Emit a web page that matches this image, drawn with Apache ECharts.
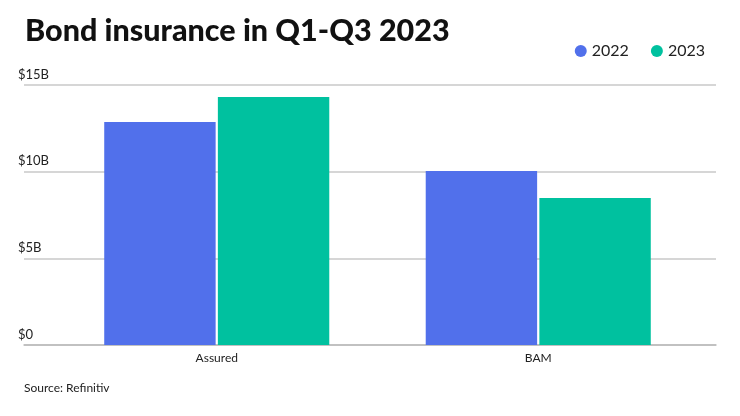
<!DOCTYPE html>
<html><head><meta charset="utf-8">
<script src="https://cdn.jsdelivr.net/npm/echarts@6/dist/echarts.min.js"></script>
<style>html,body{margin:0;padding:0;background:#fff}#c{width:740px;height:416px}</style>
</head><body><div id="c"></div>
<script>
var categories = ["Assured", "BAM"];
var seriesNames = ["2022", "2023"];
var values2022 = [12.87, 10.04];
var values2023 = [14.31, 8.48];
var yTicks = [0, 5, 10, 15];
var yTickLabels = ["$0", "$5B", "$10B", "$15B"];

var chart = echarts.init(document.getElementById('c'));
var font = 'Lato';
chart.setOption({
  animation: false,
  textStyle: {fontFamily: font},
  title: {
    text: 'Bond insurance in Q1-Q3 2023',
    left: 20, top: 11,
    textStyle: {fontFamily: font, fontWeight: 900, fontSize: 30.5, color: '#111'}
  },
  graphic: [{
    type: 'text', left: 24, top: 382,
    style: {text: 'Source: Refinitiv', font: '12px Lato', fill: '#222'}
  }],
  legend: {
    right: 30, top: 38,
    itemWidth: 12, itemHeight: 12, itemGap: 22,
    icon: 'circle',
    textStyle: {fontFamily: font, fontSize: 16, color: '#222'},
    data: seriesNames
  },
  grid: [
    {left: 24, right: 24, top: 85, bottom: 71},
    {left: 56, right: 41, top: 85, bottom: 71}
  ],
  xAxis: [
    {type: 'category', gridIndex: 0, data: categories,
     axisLine: {lineStyle: {color: '#bbb', width: 1.5}}, axisTick: {show: false}, axisLabel: {show: false}},
    {type: 'category', gridIndex: 1, data: categories,
     axisLine: {show: false}, axisTick: {show: false},
     axisLabel: {fontFamily: font, fontSize: 12, color: '#222', margin: 7}}
  ],
  yAxis: [
    {type: 'value', gridIndex: 0, min: 0, max: 15, interval: 5,
     axisLine: {show: false}, axisTick: {show: false},
     splitLine: {lineStyle: {color: '#c8c8c8', width: 1.5}},
     axisLabel: {
       align: 'left', verticalAlign: 'bottom', margin: 6,
       padding: [0, 0, 4, 0],
       fontFamily: font, fontSize: 13, color: '#222',
       formatter: function (v) { var i = yTicks.indexOf(v); return i >= 0 ? yTickLabels[i] : ''; }
     }},
    {type: 'value', gridIndex: 1, min: 0, max: 15, interval: 5, show: false}
  ],
  series: [
    {name: seriesNames[0], type: 'bar', xAxisIndex: 1, yAxisIndex: 1, data: values2022,
     itemStyle: {color: '#5170EB'}, barGap: '2%', barCategoryGap: '30%'},
    {name: seriesNames[1], type: 'bar', xAxisIndex: 1, yAxisIndex: 1, data: values2023,
     itemStyle: {color: '#00C19F'}, barGap: '2%', barCategoryGap: '30%'}
  ]
});
</script></body></html>
